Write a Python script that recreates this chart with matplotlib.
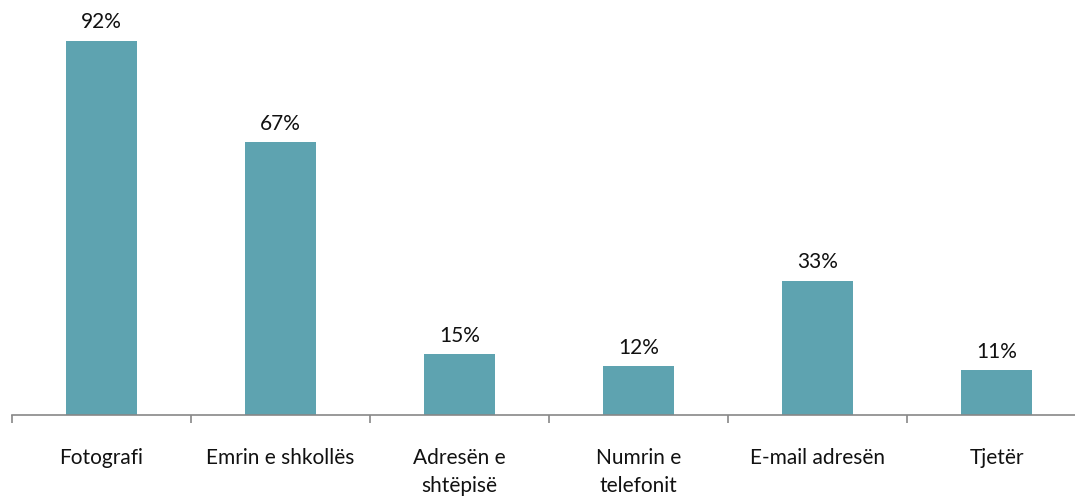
import numpy as np
import matplotlib.pyplot as plt

# data
categories = ["Fotografi", "Emrin e shkollës", "Adresën e\nshtëpisë",
              "Numrin e\ntelefonit", "E-mail adresën", "Tjetër"]
values = [92, 67, 15, 12, 33, 11]

plt.rcParams['font.family'] = ['Lato', 'DejaVu Sans']

fig = plt.figure(figsize=(10.75, 4.96), dpi=100)
ax = fig.add_axes([12 / 1075, 81 / 496, 1074 / 1075, 415 / 496])

x = np.arange(len(categories))
bars = ax.bar(x, values, width=0.4, color="#5ea3b0")

for b, v in zip(bars, values):
    ax.annotate(f"{v}%", (b.get_x() + b.get_width() / 2, v),
                xytext=(0, 6), textcoords="offset points",
                ha="center", va="bottom", fontsize=15, color="#111111")

ax.set_xlim(-0.5, len(categories) - 0.5)
ax.set_ylim(0, 102)

# tick marks sit between categories, labels under the bars
ax.set_xticks(np.arange(len(categories) + 1) - 0.5)
ax.set_xticklabels([])
ax.set_xticks(x, minor=True)
ax.set_xticklabels(categories, minor=True, fontsize=15, color="#111111",
                   linespacing=1.45)
ax.tick_params(axis="x", which="major", length=6, width=1.2, color="#888888")
ax.tick_params(axis="x", which="minor", length=0, pad=24)
ax.set_yticks([])

for s in ["top", "right", "left"]:
    ax.spines[s].set_visible(False)
ax.spines["bottom"].set_color("#888888")
ax.spines["bottom"].set_linewidth(1.2)

fig.savefig("out.png", dpi=100)
